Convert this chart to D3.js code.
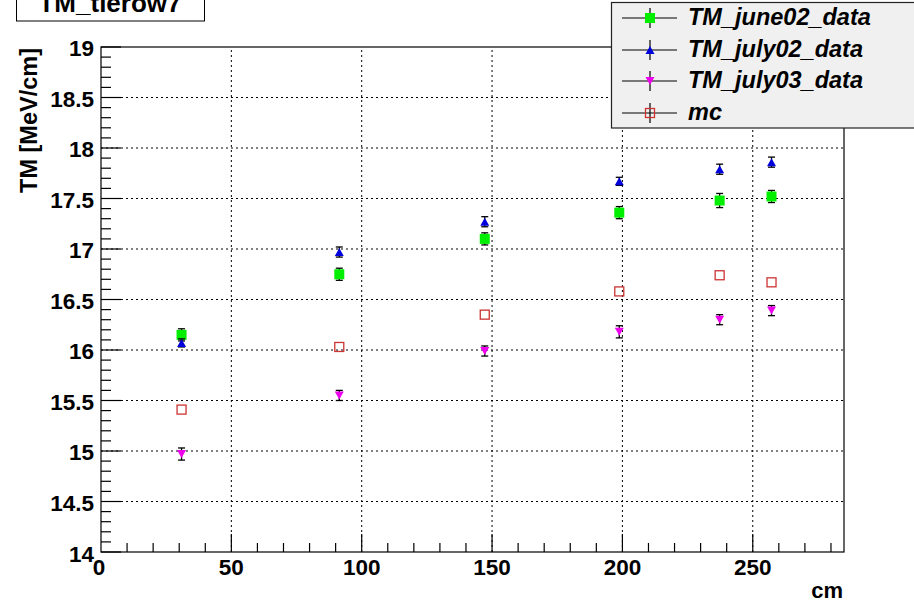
<!DOCTYPE html>
<html lang="en">
<head>
<meta charset="UTF-8">
<title>TM_tierow7</title>
<script src="https://cdn.jsdelivr.net/npm/d3@7"></script>
<style>
  body { margin: 0; background: #fff; }
  text { font-family: "Liberation Sans", Arial, sans-serif; font-weight: bold; }
</style>
</head>
<body>
<div id="chart"></div>
<script>
// data
var xPos = [30.9, 91.4, 147.2, 198.8, 237.3, 257.2];
var june02 = [16.15, 16.75, 17.10, 17.36, 17.48, 17.52];
var june02Err = [0.06, 0.06, 0.06, 0.06, 0.07, 0.06];
var july02 = [16.07, 16.97, 17.27, 17.67, 17.79, 17.86];
var july02Err = [0.04, 0.05, 0.05, 0.04, 0.05, 0.05];
var july03 = [14.97, 15.55, 15.99, 16.18, 16.30, 16.39];
var july03Err = [0.06, 0.05, 0.05, 0.06, 0.05, 0.05];
var mc = [15.41, 16.03, 16.35, 16.58, 16.74, 16.67];
var xTicks = [0, 50, 100, 150, 200, 250];
var yTicks = [14, 14.5, 15, 15.5, 16, 16.5, 17, 17.5, 18, 18.5, 19];

var W = 914, H = 603;
var m = {left: 101, right: 70, top: 47, bottom: 51};

var svg = d3.select("#chart").append("svg")
    .attr("width", W).attr("height", H);

var x = d3.scaleLinear().domain([0, 285]).range([m.left, W - m.right]);
var y = d3.scaleLinear().domain([14, 19]).range([H - m.bottom, m.top]);

// grid
svg.append("g").selectAll("line").data(xTicks.slice(1)).join("line")
    .attr("x1", d => x(d)).attr("x2", d => x(d))
    .attr("y1", y(14)).attr("y2", y(19))
    .attr("stroke", "#000").attr("stroke-dasharray", "2,3");
svg.append("g").selectAll("line").data(yTicks.slice(1, -1)).join("line")
    .attr("x1", x(0)).attr("x2", x(285))
    .attr("y1", d => y(d)).attr("y2", d => y(d))
    .attr("stroke", "#000").attr("stroke-dasharray", "2,3");

// frame
svg.append("rect")
    .attr("x", x(0)).attr("y", y(19))
    .attr("width", x(285) - x(0)).attr("height", y(14) - y(19))
    .attr("fill", "none").attr("stroke", "#000").attr("stroke-width", 1.2);

// ticks drawn inward, ROOT style
var xMinor = d3.range(10, 285, 10);
svg.append("g").selectAll("line").data(xMinor).join("line")
    .attr("x1", d => x(d)).attr("x2", d => x(d))
    .attr("y1", y(14)).attr("y2", d => y(14) - (d % 50 === 0 ? 18 : 9))
    .attr("stroke", "#000").attr("stroke-width", 1.2);
var yMinor = d3.range(0, 51).map(i => 14 + i * 0.1);
svg.append("g").selectAll("line").data(yMinor).join("line")
    .attr("x1", x(0))
    .attr("x2", (d, i) => x(0) + (i % 5 === 0 ? 20 : 10))
    .attr("y1", d => y(d)).attr("y2", d => y(d))
    .attr("stroke", "#000").attr("stroke-width", 1.2);

// tick labels
svg.append("g").selectAll("text").data(xTicks).join("text")
    .attr("x", d => x(d) - (d === 0 ? 2 : 0)).attr("y", y(14) + 23)
    .attr("text-anchor", "middle").attr("font-size", 22.5)
    .text(d => d);
svg.append("g").selectAll("text").data(yTicks).join("text")
    .attr("x", x(0) - 7).attr("y", d => y(d) + (d === 14 ? 10 : 9))
    .attr("text-anchor", "end").attr("font-size", 22.5)
    .text(d => d);

// axis titles
svg.append("text").attr("x", 843).attr("y", 598)
    .attr("text-anchor", "end").attr("font-size", 22).text("cm");
svg.append("text")
    .attr("transform", "translate(37,48) rotate(-90)")
    .attr("text-anchor", "end").attr("font-size", 23.5)
    .text("TM [MeV/cm]");

// title box
svg.append("rect").attr("x", 16.5).attr("y", -5).attr("width", 188).attr("height", 26)
    .attr("fill", "#fff").attr("stroke", "#000");
svg.append("text").attr("x", 110).attr("y", 12)
    .attr("text-anchor", "middle").attr("font-size", 26).text("TM_tierow7");

// series
var series = [
  {name: "TM_june02_data", vals: june02, err: june02Err, shape: "square", color: "#00ee00", fill: true},
  {name: "TM_july02_data", vals: july02, err: july02Err, shape: "up", color: "#0000dd", fill: true},
  {name: "TM_july03_data", vals: july03, err: july03Err, shape: "down", color: "#ee00ee", fill: true},
  {name: "mc", vals: mc, err: null, shape: "square", color: "#cc3333", fill: false}
];

function marker(g, s, cx, cy) {
  if (s.shape === "square") {
    var sz = s.fill ? 10 : 9;
    g.append("rect").attr("x", cx - sz / 2).attr("y", cy - sz / 2)
      .attr("width", sz).attr("height", sz)
      .attr("fill", s.fill ? s.color : "none")
      .attr("stroke", s.color).attr("stroke-width", s.fill ? 0 : 1.3);
  } else {
    var h = 8, w = 9;
    var pts = s.shape === "up"
      ? [[cx - w / 2, cy + h / 2], [cx + w / 2, cy + h / 2], [cx, cy - h / 2]]
      : [[cx - w / 2, cy - h / 2], [cx + w / 2, cy - h / 2], [cx, cy + h / 2]];
    g.append("polygon").attr("points", pts.map(p => p.join(",")).join(" "))
      .attr("fill", s.color);
  }
}

series.forEach(function (s) {
  var g = svg.append("g");
  s.vals.forEach(function (v, i) {
    var cx = x(xPos[i]), cy = y(v);
    if (s.err) {
      var e = s.err[i];
      g.append("line").attr("x1", cx).attr("x2", cx)
        .attr("y1", y(v - e)).attr("y2", y(v + e)).attr("stroke", "#000").attr("stroke-width", 1.3);
      [v - e, v + e].forEach(function (ev) {
        g.append("line").attr("x1", cx - 3.5).attr("x2", cx + 3.5)
          .attr("y1", y(ev)).attr("y2", y(ev)).attr("stroke", "#000").attr("stroke-width", 1.3);
      });
    }
    marker(g, s, cx, cy);
  });
});

// legend
var leg = svg.append("g");
leg.append("rect").attr("x", 611.5).attr("y", 2.5).attr("width", 310).attr("height", 125.5)
  .attr("fill", "#f0f0f0").attr("stroke", "#222").attr("stroke-width", 1.2);
var legY = [18, 50, 81, 113];
series.forEach(function (s, i) {
  var ly = legY[i];
  leg.append("line").attr("x1", 622).attr("x2", 677).attr("y1", ly).attr("y2", ly)
    .attr("stroke", "#000").attr("stroke-width", 1.2);
  leg.append("line").attr("x1", 650).attr("x2", 650).attr("y1", ly - 10).attr("y2", ly + 10)
    .attr("stroke", "#000").attr("stroke-width", 1.2);
  marker(leg, s, 650, ly);
  leg.append("text").attr("x", 688).attr("y", ly + 7)
    .attr("font-size", 23.5).attr("font-style", "italic").text(s.name);
});
</script>
</body>
</html>
